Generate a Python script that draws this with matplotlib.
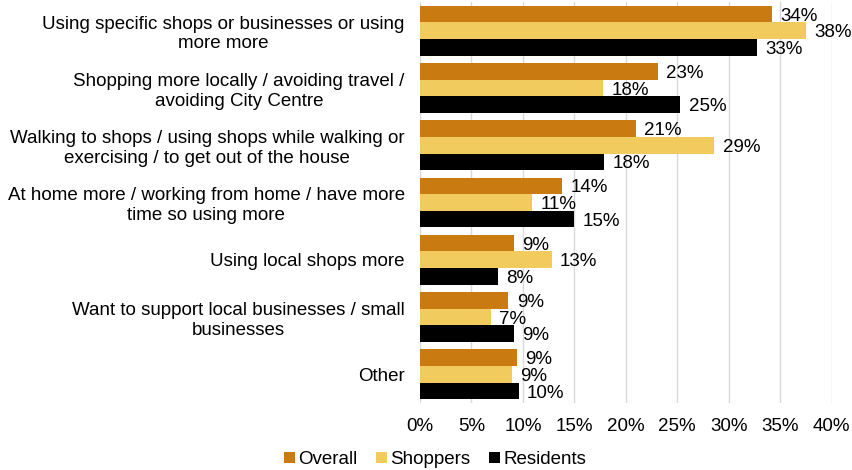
import matplotlib.pyplot as plt
import numpy as np

plt.rcParams["font.family"] = ["Liberation Sans", "DejaVu Sans"]

categories = [
    "Using specific shops or businesses or using\nmore more",
    "Shopping more locally / avoiding travel /\navoiding City Centre",
    "Walking to shops / using shops while walking or\nexercising / to get out of the house",
    "At home more / working from home / have more\ntime so using more",
    "Using local shops more",
    "Want to support local businesses / small\nbusinesses",
    "Other",
]
overall = [34.2, 23.1, 21.0, 13.8, 9.1, 8.6, 9.4]
shoppers = [37.5, 17.8, 28.6, 10.9, 12.8, 6.9, 8.9]
residents = [32.8, 25.3, 17.9, 15.0, 7.6, 9.1, 9.6]
series_names = ["Overall", "Shoppers", "Residents"]
colors = ["#C97B12", "#F2CB5E", "#000000"]
xticks = np.arange(0, 41, 5)

fs = 13.5
fig = plt.figure(figsize=(8.52, 4.70), dpi=100)
ax = fig.add_axes([420 / 852, 1 - 403 / 470, 411.5 / 852, 401 / 470])

y = np.arange(len(categories))
h = 0.29
for i, (vals, name, col) in enumerate(zip([overall, shoppers, residents], series_names, colors)):
    pos = y + (i - 1) * h
    ax.barh(pos, vals, height=h, color=col, label=name, zorder=2)
    for p, v in zip(pos, vals):
        ax.annotate(f"{v:.0f}%", (v, p), xytext=(6, -1.5), textcoords="offset points",
                    va="center", ha="left", fontsize=fs, color="#000000")

ax.set_ylim(len(categories) - 0.5, -0.5)
ax.set_xlim(0, 40)
ax.set_xticks(xticks)
ax.set_xticklabels([f"{t}%" for t in xticks], fontsize=fs)
ax.set_yticks(y)
ax.set_yticklabels(categories, fontsize=fs, multialignment="center")
ax.tick_params(axis="y", length=0, pad=11)
ax.tick_params(axis="x", length=0, pad=11)
ax.grid(axis="x", color="#D9D9D9", linewidth=1, zorder=0)
for s in ax.spines.values():
    s.set_visible(False)

ax.legend(loc="lower center", bbox_to_anchor=(435 / 852, -0.012), bbox_transform=fig.transFigure,
          ncol=3, frameon=False, fontsize=fs, handlelength=0.6, handleheight=0.6,
          handletextpad=0.15, columnspacing=1.0, borderaxespad=0.0)

fig.savefig("out.png", dpi=100)
